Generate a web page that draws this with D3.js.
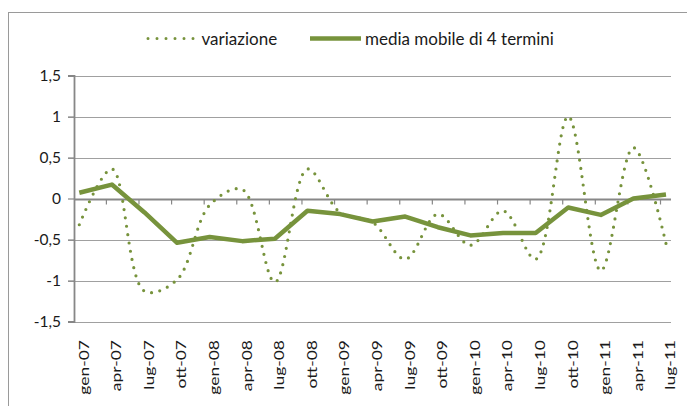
<!DOCTYPE html>
<html><head><meta charset="utf-8">
<script src="https://cdn.jsdelivr.net/npm/d3@7"></script>
<style>
html,body{margin:0;padding:0;background:#fff;}
svg{display:block;font-family:Lato,"Open Sans",sans-serif;}
</style></head>
<body>
<svg id="c" width="687" height="406"></svg>
<script>
const categories = ["gen-07","apr-07","lug-07","ott-07","gen-08","apr-08","lug-08","ott-08","gen-09","apr-09","lug-09","ott-09","gen-10","apr-10","lug-10","ott-10","gen-11","apr-11","lug-11"];
const variazione = [-0.32, 0.36, -1.13, -0.99, -0.08, 0.11, -1.02, 0.36, -0.17, -0.29, -0.74, -0.19, -0.57, -0.15, -0.74, 1.00, -0.88, 0.62, -0.55];
const mediaMobile = [0.07, 0.17, -0.17, -0.54, -0.47, -0.52, -0.49, -0.15, -0.19, -0.28, -0.22, -0.35, -0.45, -0.42, -0.42, -0.11, -0.20, 0.00, 0.05];
const yTicks = [-1.5, -1, -0.5, 0, 0.5, 1, 1.5];
const yTickLabels = ["-1,5", "-1", "-0,5", "0", "0,5", "1", "1,5"];
const seriesNames = ["variazione", "media mobile di 4 termini"];

const green = "#77933C";
const svg = d3.select("#c");

// outer frame
svg.append("rect").attr("x", 8.5).attr("y", 12.5).attr("width", 700).attr("height", 420)
  .attr("fill", "none").attr("stroke", "#9a9a9a").attr("stroke-width", 1);

const x = d3.scalePoint().domain(categories).range([79.3, 666]);
const tickOffset = -5.5;
const y = d3.scaleLinear().domain([-1.5, 1.5]).range([321.5, 75.5]);
const xLeft = 74, xRight = 671;

// gridlines
svg.append("g").selectAll("line").data(yTicks.filter(d => d !== 0)).join("line")
  .attr("x1", 68).attr("x2", xRight)
  .attr("y1", d => Math.round(y(d)) + 0.5).attr("y2", d => Math.round(y(d)) + 0.5)
  .attr("stroke", "#a0a0a0").attr("stroke-width", 1.2);

// y axis
const yAxis = d3.axisLeft(y).tickValues(yTicks).tickSize(6).tickPadding(10)
  .tickFormat((d, i) => yTickLabels[i]);
const gy = svg.append("g").attr("transform", `translate(${xLeft},0)`).call(yAxis);
gy.select(".domain").attr("stroke", "#878787").attr("stroke-width", 1.8);
gy.selectAll(".tick line").attr("stroke", "#878787").attr("stroke-width", 1.2);
gy.selectAll(".tick text").attr("font-size", "15.5px").attr("fill", "#1a1a1a")
  .attr("font-family", "Lato, 'Open Sans', sans-serif").attr("dx", 3);

// x axis at zero
const y0 = Math.round(y(0)) + 0.5;
svg.append("line").attr("x1", xLeft).attr("x2", xRight).attr("y1", y0).attr("y2", y0)
  .attr("stroke", "#878787").attr("stroke-width", 1.8);
svg.append("g").selectAll("line").data(categories.slice(1)).join("line")
  .attr("x1", d => x(d) + tickOffset).attr("x2", d => x(d) + tickOffset)
  .attr("y1", y0).attr("y2", y0 + 5)
  .attr("stroke", "#878787").attr("stroke-width", 1.2);

// x labels
svg.append("g").selectAll("text").data(categories).join("text")
  .attr("transform", d => `translate(${x(d) + 4.5},340) rotate(-90) scale(1.25,1)`)
  .attr("text-anchor", "end").attr("dy", "0.35em")
  .attr("font-size", "14px").attr("fill", "#1a1a1a")
  .text(d => d);

// series
const smooth = d3.line().x((d, i) => x(categories[i])).y(d => y(d)).curve(d3.curveCatmullRom.alpha(0.5));
const straight = d3.line().x((d, i) => x(categories[i])).y(d => y(d));

svg.append("path").datum(variazione).attr("d", smooth)
  .attr("fill", "none").attr("stroke", green).attr("stroke-width", 3.2)
  .attr("stroke-linecap", "round").attr("stroke-dasharray", "0 8.4");

svg.append("path").datum(mediaMobile).attr("d", straight)
  .attr("fill", "none").attr("stroke", green).attr("stroke-width", 4.5)
  .attr("stroke-linejoin", "round");

// legend
const leg = svg.append("g");
leg.append("line").attr("x1", 148).attr("x2", 194).attr("y1", 38.5).attr("y2", 38.5)
  .attr("stroke", green).attr("stroke-width", 3).attr("stroke-linecap", "round").attr("stroke-dasharray", "0 9");
leg.append("text").attr("x", 201.5).attr("y", 45).attr("font-size", "17px").attr("fill", "#1a1a1a").text(seriesNames[0]);
leg.append("line").attr("x1", 310).attr("x2", 361).attr("y1", 38.5).attr("y2", 38.5)
  .attr("stroke", green).attr("stroke-width", 4.5);
leg.append("text").attr("x", 365).attr("y", 45).attr("font-size", "17px").attr("fill", "#1a1a1a").text(seriesNames[1]);
</script>
</body></html>
